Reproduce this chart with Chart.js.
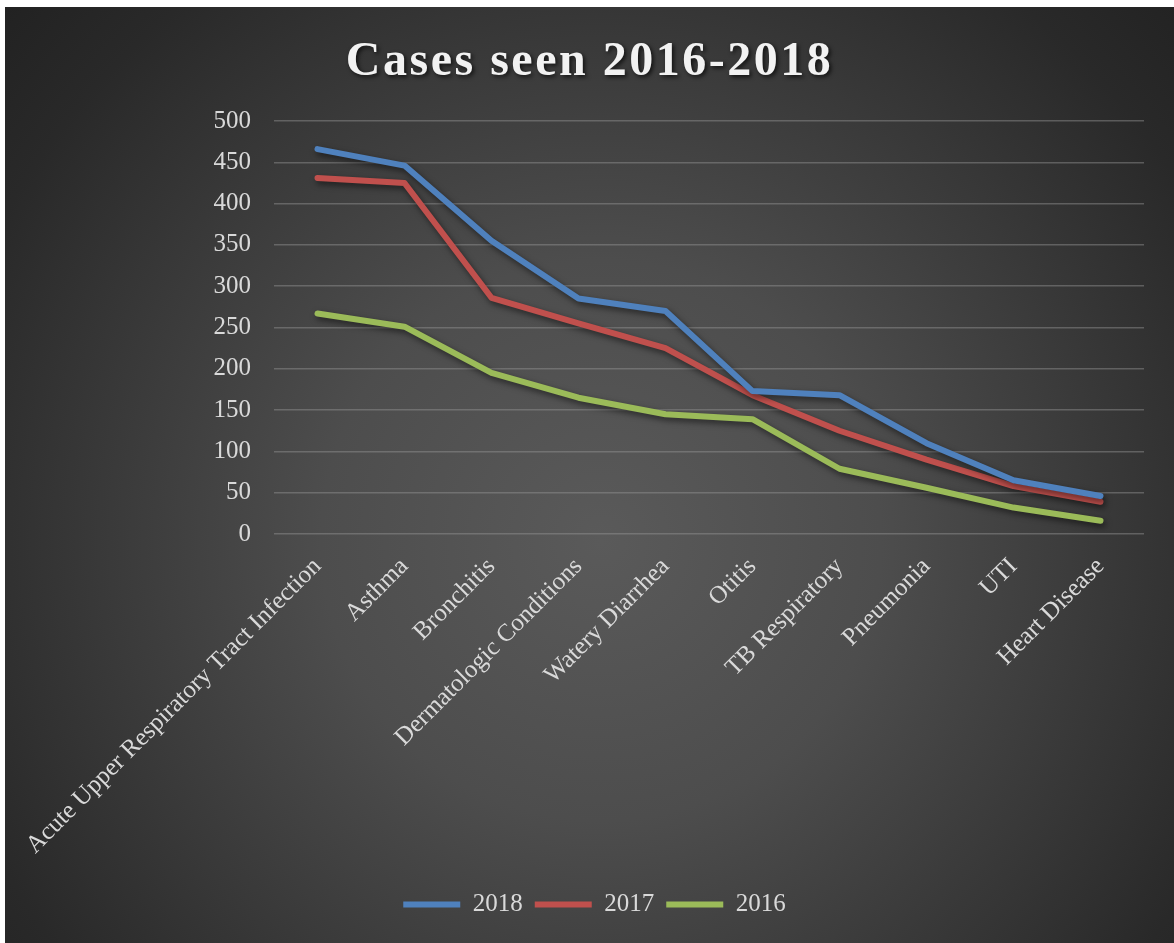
<!DOCTYPE html>
<html>
<head>
  <meta charset="UTF-8">
  <title>Cases seen 2016-2018</title>
  <script src="https://cdn.jsdelivr.net/npm/chart.js"></script>
  <style>
    html, body {
      margin: 0;
      padding: 0;
      background: #fff;
    }
    #wrap {
      position: absolute;
      left: 5px;
      top: 7px;
      width: 1169px;
      height: 936px;
      background: radial-gradient(circle farthest-corner at 51% 57%, #5a5a5a 0%, #4d4d4d 35%, #3b3b3b 60%, #292929 85%, #222 100%);
    }
  </style>
</head>
<body>
  <div id="wrap"><canvas id="casesChart"></canvas></div>

  <script>
    // values
    const titleText = 'Cases seen 2016-2018';
    const categories = ['Acute Upper Respiratory Tract Infection', 'Asthma', 'Bronchitis',
      'Dermatologic Conditions', 'Watery Diarrhea', 'Otitis', 'TB Respiratory',
      'Pneumonia', 'UTI', 'Heart Disease'];
    const cases2018 = [466, 446, 355, 285, 270, 173, 168, 110, 65, 46];
    const cases2017 = [431, 425, 286, 255, 225, 168, 125, 90, 58, 39];
    const cases2016 = [267, 251, 195, 165, 145, 139, 79, 56, 32, 16];

    const textColor = '#d9d9d9';
    const serif = '"Liberation Serif", "Times New Roman", serif';

    // thick office-style lines with a soft drop shadow
    const lineShadow = {
      id: 'lineShadow',
      beforeDatasetsDraw(chart) {
        const ctx = chart.ctx;
        ctx.save();
        ctx.shadowColor = 'rgba(0, 0, 0, 0.55)';
        ctx.shadowBlur = 6;
        ctx.shadowOffsetX = 2;
        ctx.shadowOffsetY = 3;
      },
      afterDatasetsDraw(chart) {
        chart.ctx.restore();
      }
    };

    // title drawn by hand so it can get letter spacing and a shadow
    const spacedTitle = {
      id: 'spacedTitle',
      afterDraw(chart) {
        const ctx = chart.ctx;
        ctx.save();
        ctx.font = 'bold 48px ' + serif;
        ctx.letterSpacing = '2.5px';
        ctx.fillStyle = '#f2f2f2';
        ctx.textAlign = 'center';
        ctx.textBaseline = 'alphabetic';
        ctx.shadowColor = 'rgba(0, 0, 0, 0.7)';
        ctx.shadowBlur = 4;
        ctx.shadowOffsetX = 2;
        ctx.shadowOffsetY = 2;
        ctx.fillText(titleText, chart.width / 2, 68);
        ctx.restore();
      }
    };

    function series(label, data, color) {
      return {
        label: label,
        data: data,
        borderColor: color,
        backgroundColor: color,
        borderWidth: 6,
        borderCapStyle: 'round',
        borderJoinStyle: 'round',
        pointRadius: 0,
        pointHoverRadius: 0,
        tension: 0,
        fill: false
      };
    }

    const ctx = document.getElementById('casesChart').getContext('2d');
    new Chart(ctx, {
      type: 'line',
      data: {
        labels: categories,
        datasets: [
          series('2018', cases2018, '#4f81bd'),
          series('2017', cases2017, '#c0504d'),
          series('2016', cases2016, '#9bbb59')
        ]
      },
      options: {
        responsive: true,
        maintainAspectRatio: false,
        animation: false,
        layout: {
          padding: { top: 114, right: 30, bottom: 16, left: 40 }
        },
        plugins: {
          title: { display: false },
          tooltip: { enabled: false },
          legend: {
            position: 'bottom',
            labels: {
              color: textColor,
              font: { family: serif, size: 25 },
              usePointStyle: true,
              pointStyle: 'line',
              pointStyleWidth: 57,
              boxHeight: 6,
              padding: 12
            }
          }
        },
        scales: {
          x: {
            offset: true,
            grid: { display: false },
            border: { display: false },
            ticks: {
              color: textColor,
              font: { family: serif, size: 25 },
              autoSkip: false,
              minRotation: 45,
              maxRotation: 45,
              padding: 10
            },
            afterFit(scale) { scale.height = 346; }
          },
          y: {
            min: 0,
            max: 500,
            border: { display: false },
            grid: {
              color: 'rgba(150, 150, 150, 0.45)',
              lineWidth: 1.5,
              drawTicks: false
            },
            ticks: {
              stepSize: 50,
              color: textColor,
              font: { family: serif, size: 25 },
              padding: 23
            },
            afterFit(scale) { scale.width = 229; }
          }
        }
      },
      plugins: [lineShadow, spacedTitle]
    });
  </script>
</body>
</html>
